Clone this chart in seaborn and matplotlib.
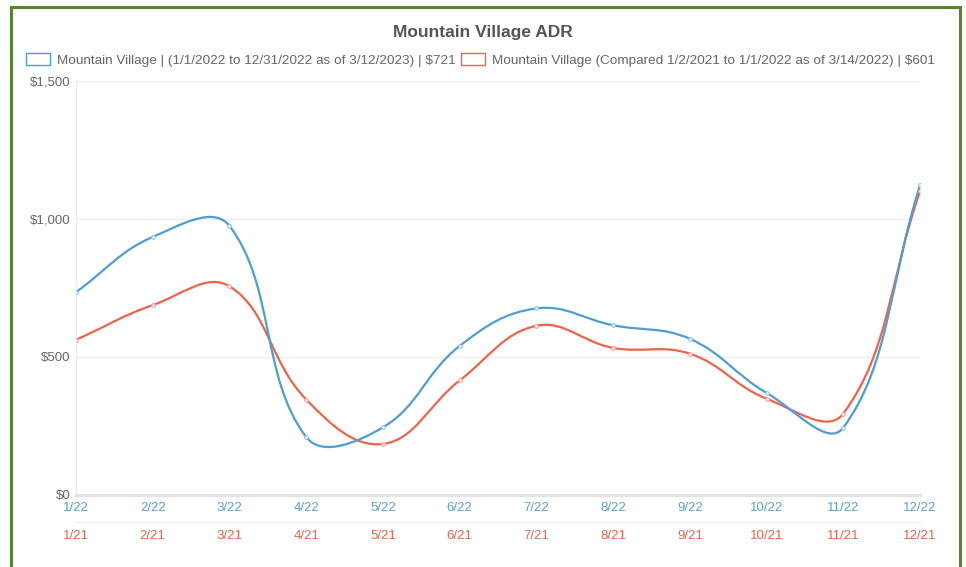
import numpy as np
import matplotlib
matplotlib.use("Agg")
import matplotlib.pyplot as plt
import seaborn as sns
from matplotlib.path import Path
from matplotlib.patches import PathPatch, Patch, Rectangle

sns.set_style("white")
plt.rcParams['font.family'] = ['Liberation Sans', 'DejaVu Sans']

# data
labels_22 = ['1/22', '2/22', '3/22', '4/22', '5/22', '6/22', '7/22', '8/22', '9/22', '10/22', '11/22', '12/22']
labels_21 = ['1/21', '2/21', '3/21', '4/21', '5/21', '6/21', '7/21', '8/21', '9/21', '10/21', '11/21', '12/21']
adr_2022 = [735, 935, 975, 210, 245, 540, 676, 615, 566, 370, 244, 1122]
adr_2021 = [562, 688, 756, 346, 185, 415, 613, 533, 512, 349, 295, 1101]
name_2022 = 'Mountain Village | (1/1/2022 to 12/31/2022 as of 3/12/2023) | $721'
name_2021 = 'Mountain Village (Compared 1/2/2021 to 1/1/2022 as of 3/14/2022) | $601'

blue = '#4d9dd6'
red = '#ef6449'

fig = plt.figure(figsize=(9.66, 5.67), dpi=100)
ax = fig.add_axes([76 / 966, 72 / 567, 844 / 966, 414 / 567])
ax.set_xlim(0, 11)
ax.set_ylim(0, 1500)


def spline_path(xs, ys, t=0.4):
    # chart.js style cubic interpolation, done in screen space
    tr = ax.transData
    p = tr.transform(np.column_stack([xs, ys]))
    n = len(p)
    c_in, c_out = [], []
    for i in range(n):
        a = p[max(i - 1, 0)]
        b = p[i]
        c = p[min(i + 1, n - 1)]
        d01 = np.hypot(*(b - a))
        d12 = np.hypot(*(c - b))
        s = d01 + d12
        fa = t * d01 / s if s else 0
        fb = t * d12 / s if s else 0
        c_in.append(b - fa * (c - a))
        c_out.append(b + fb * (c - a))
    verts = [p[0]]
    codes = [Path.MOVETO]
    for i in range(1, n):
        verts += [c_out[i - 1], c_in[i], p[i]]
        codes += [Path.CURVE4] * 3
    verts = tr.inverted().transform(np.array(verts))
    return Path(verts, codes)


x = np.arange(len(labels_22))
for vals, col, pale in [(adr_2021, red, '#f39a88'), (adr_2022, blue, '#86bde4')]:
    ax.add_patch(PathPatch(spline_path(x, vals), facecolor='none', edgecolor=col, lw=1.6, zorder=3))
    sns.scatterplot(x=x, y=vals, s=7, ax=ax, zorder=4, legend=False)
    pts = ax.collections[-1]
    pts.set_facecolor('#f7fafc')
    pts.set_edgecolor(pale)
    pts.set_linewidth(0.7)

# axes styling
ax.set_xlabel('')
ax.set_ylabel('')
ax.set_yticks([0, 500, 1000, 1500])
ax.set_yticklabels(['$0', '$500', '$1,000', '$1,500'])
ax.grid(axis='y', color='#efefef', lw=1)
ax.grid(axis='x', visible=False)
for s in ['top', 'right']:
    ax.spines[s].set_visible(False)
ax.spines['left'].set_color('#ebebeb')
ax.spines['left'].set_linewidth(1)
ax.spines['bottom'].set_color('#e0e0e0')
ax.spines['bottom'].set_linewidth(2)
ax.tick_params(axis='y', length=0, pad=4, labelsize=9.5, labelcolor='#666666')
ax.set_xticks(x)
ax.set_xticklabels(labels_22)
ax.tick_params(axis='x', length=0, pad=5, labelsize=9.5, labelcolor='#5ba0d2')

sec = ax.secondary_xaxis(-27 / 414)
sec.set_xticks(x)
sec.set_xticklabels(labels_21)
sec.tick_params(axis='x', length=0, pad=6, labelsize=9.5, labelcolor='#e9634c')
sec.spines['bottom'].set_color('#f2f2f2')
sec.spines['bottom'].set_linewidth(1)

# title and legend
fig.text(0.5, 1 - 33 / 567, 'Mountain Village ADR', ha='center', va='center',
         fontsize=12.5, fontweight='bold', color='#555555')
handles = [Patch(facecolor='white', edgecolor=blue, lw=1, label=name_2022),
           Patch(facecolor='white', edgecolor=red, lw=1, label=name_2021)]
fig.legend(handles=handles, loc='center', bbox_to_anchor=(0.497, 1 - 60 / 567), ncol=2,
           frameon=False, fontsize=9.7, handlelength=1.8, handleheight=1.0,
           handletextpad=0.5, columnspacing=0.4, labelcolor='#666666')

# green frame
fig.patches.append(Rectangle((11 / 966, -0.05), 949 / 966, 1.05 - 7 / 567, transform=fig.transFigure,
                             fill=False, edgecolor='#56842f', lw=2.2))

fig.savefig('out.png', dpi=100)
